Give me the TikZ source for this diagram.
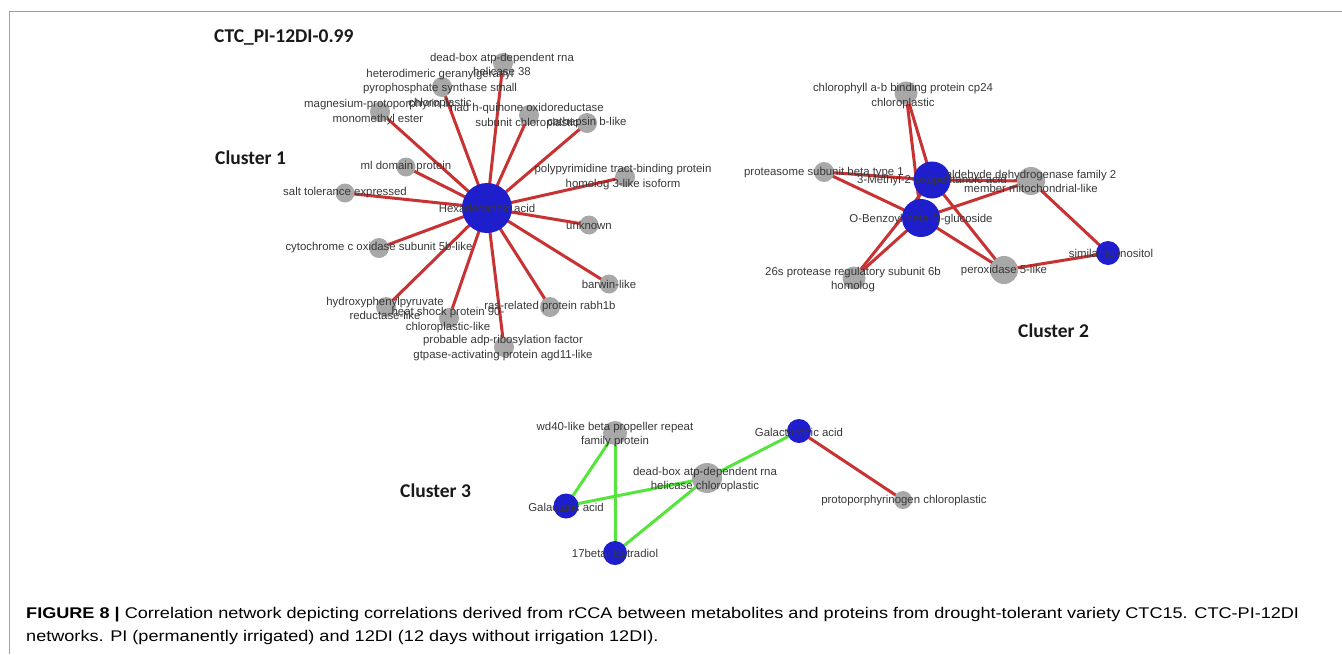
\documentclass[tikz,border=0pt]{standalone}
\usepackage{fontspec}
\setmainfont{Liberation Sans}
\newfontfamily\titlefont{Carlito}
\newfontfamily\capfont{Liberation Sans}
\definecolor{hubblue}{RGB}{30,30,205}
\definecolor{protgray}{RGB}{168,168,168}
\definecolor{redE}{RGB}{200,50,50}
\definecolor{greenE}{RGB}{85,228,60}
\definecolor{lbl}{RGB}{55,55,55}
\definecolor{framegray}{RGB}{160,160,160}
\pgfdeclarelayer{bg}
\pgfdeclarelayer{fg}
\pgfsetlayers{bg,main,fg}
\newsavebox{\capA}
\newsavebox{\capB}
\newlength{\capw}
\tikzset{
  met/.style={circle,fill=hubblue,draw=none,minimum size=#1,inner sep=0pt},
  prt/.style={circle,fill=protgray,draw=none,minimum size=#1,inner sep=0pt},
  lab/.style={font=\fontsize{11.4}{14.2}\selectfont,text=lbl,align=center,inner sep=0pt},
  redline/.style={draw=redE,line width=3pt},
  greenline/.style={draw=greenE,line width=3pt},
  heading/.style={font=\titlefont\bfseries\fontsize{19.5}{23}\selectfont,text=black!90,anchor=west,inner sep=0pt},
  framerule/.style={draw=framegray,line width=1pt},
}
\begin{document}
\sbox{\capA}{\capfont\fontsize{15.5}{18}\selectfont\textbf{FIGURE 8 |} Correlation network depicting correlations derived from rCCA between metabolites and proteins from drought-tolerant variety CTC15. CTC-PI-12DI}%
\sbox{\capB}{\capfont\fontsize{15.5}{18}\selectfont networks. PI (permanently irrigated) and 12DI (12 days without irrigation 12DI).}%
\setlength{\capw}{\wd\capA}%
\pgfmathsetmacro{\capr}{1273pt/\capw}%
\begin{tikzpicture}[x=1pt,y=-1pt]
\useasboundingbox (0,0) rectangle (1342,654);
% frame
\coordinate (frTL) at (9,11);
\coordinate (frTR) at (1342,11);
\coordinate (frBL) at (9,654);
\draw[framerule] (frTR) -- (frTL) -- (frBL);

% headings
\node[heading] (title) at (214,37) {CTC\_PI-12DI-0.99};
\node[heading] (c1) at (215,158) {Cluster 1};
\node[heading] (c2) at (1018,331) {Cluster 2};
\node[heading] (c3) at (400,491) {Cluster 3};

% ---------- Cluster 1 nodes ----------
\node[met=50pt] (hex) at (487,208) {};
\node[prt=20pt] (dbx38) at (503,63) {};
\node[prt=20pt] (hgg) at (442,87) {};
\node[prt=20pt] (mgp) at (380,112) {};
\node[prt=20pt] (nad) at (529,115) {};
\node[prt=20pt] (cat) at (587,123) {};
\node[prt=19pt] (mld) at (406,167) {};
\node[prt=19pt] (salt) at (345,193) {};
\node[prt=20pt] (ppt) at (625,177) {};
\node[prt=19pt] (unk) at (589,225) {};
\node[prt=20pt] (cyt) at (379,248) {};
\node[prt=19pt] (bar) at (609,284) {};
\node[prt=20pt] (hpp) at (386,307) {};
\node[prt=20pt] (hsp) at (449,318) {};
\node[prt=20pt] (ras) at (550,307) {};
\node[prt=20pt] (adp) at (504,347) {};

% ---------- Cluster 2 nodes ----------
\node[prt=23pt] (chl) at (906,93) {};
\node[prt=20pt] (pro) at (824,172) {};
\node[prt=28pt] (ald) at (1031,181) {};
\node[prt=28pt] (per) at (1004,270) {};
\node[prt=23pt] (p26) at (854,278) {};
\node[met=37pt] (mop) at (932,180) {};
\node[met=38pt] (obg) at (921,218) {};
\node[met=24pt] (ino) at (1108,253) {};

% ---------- Cluster 3 nodes ----------
\node[prt=24pt] (wd4) at (615,433) {};
\node[met=24pt] (gcu) at (799,431) {};
\node[prt=30pt] (dbc) at (707,478) {};
\node[met=25pt] (gca) at (566,506) {};
\node[prt=18pt] (ppg) at (903,500) {};
\node[met=24pt] (est) at (615,553) {};

% ---------- edges ----------
\begin{pgfonlayer}{bg}
\foreach \t in {dbx38,hgg,mgp,nad,cat,mld,salt,ppt,unk,cyt,bar,hpp,hsp,ras,adp}
  \draw[redline] (hex.center) -- (\t.center);
\foreach \a/\b in {chl/mop,chl/obg,pro/mop,pro/obg,ald/mop,ald/obg,ald/ino,p26/obg,p26/mop,per/obg,per/mop,per/ino}
  \draw[redline] (\a.center) -- (\b.center);
\foreach \a/\b in {wd4/gca,wd4/est,dbc/gca,dbc/est,dbc/gcu}
  \draw[greenline] (\a.center) -- (\b.center);
\draw[redline] (gcu.center) -- (ppg.center);
\end{pgfonlayer}

% ---------- labels ----------
\begin{pgfonlayer}{fg}
\node[lab] (hexL) at (487,208) {Hexadecanoic acid};
\node[lab] (dbx38L) at (502,64.5) {dead-box atp-dependent rna\\helicase 38};
\node[lab] (hggL) at (440,89) {heterodimeric geranylgeranyl\\pyrophosphate synthase small\\chloroplastic};
\node[lab] (mgpL) at (378,112) {magnesium-protoporphyrin ix\\monomethyl ester};
\node[lab] (nadL) at (527,116) {nad h-quinone oxidoreductase\\subunit chloroplastic};
\node[lab] (catL) at (587,123) {cathepsin b-like};
\node[lab] (mldL) at (406,167) {ml domain protein};
\node[lab] (saltL) at (345,193) {salt tolerance expressed};
\node[lab] (pptL) at (623,177) {polypyrimidine tract-binding protein\\homolog 3-like isoform};
\node[lab] (unkL) at (589,225) {unknown};
\node[lab] (cytL) at (379,248) {cytochrome c oxidase subunit 5b-like};
\node[lab] (barL) at (609,284) {barwin-like};
\node[lab] (hppL) at (385,308.5) {hydroxyphenylpyruvate\\reductase-like};
\node[lab] (hspL) at (448,320) {heat shock protein 90-\\chloroplastic-like};
\node[lab] (rasL) at (550,307) {ras-related protein rabh1b};
\node[lab] (adpL) at (503,348) {probable adp-ribosylation factor\\gtpase-activating protein agd11-like};

\node[lab] (chlL) at (903,96) {chlorophyll a-b binding protein cp24\\chloroplastic};
\node[lab] (proL) at (824,173) {proteasome subunit beta type 1};
\node[lab] (mopL) at (932,181) {3-Methyl-2-oxopentanoic acid};
\node[lab] (aldL) at (1031,181.5) {aldehyde dehydrogenase family 2\\member mitochondrial-like};
\node[lab] (obgL) at (921,220) {O-Benzoyl-beta-D-glucoside};
\node[lab] (inoL) at (1111,253) {similar to inositol};
\node[lab] (perL) at (1004,271) {peroxidase 5-like};
\node[lab] (p26L) at (853,279.5) {26s protease regulatory subunit 6b\\homolog};

\node[lab] (wd4L) at (615,434.5) {wd40-like beta propeller repeat\\family protein};
\node[lab] (gcuL) at (799,432) {Galacturonic acid};
\node[lab] (dbcL) at (705,479.5) {dead-box atp-dependent rna\\helicase chloroplastic};
\node[lab] (gcaL) at (566,507) {Galactaric acid};
\node[lab] (ppgL) at (904,501) {protoporphyrinogen chloroplastic};
\node[lab] (estL) at (615,553) {17beta- Estradiol};
\end{pgfonlayer}

% ---------- caption ----------
\node[anchor=base west,inner sep=0pt,text=black!85] (cap1) at (26,618) {\scalebox{\capr}[1]{\usebox{\capA}}};
\node[anchor=base west,inner sep=0pt,text=black!85] (cap2) at (26,641) {\scalebox{\capr}[1]{\usebox{\capB}}};
\end{tikzpicture}
\end{document}
